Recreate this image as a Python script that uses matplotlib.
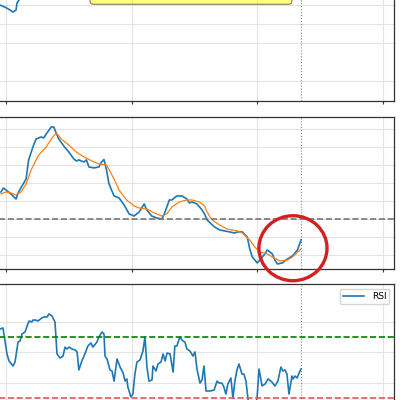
# -*- coding: utf-8 -*-
# Price with moving average and RSI (zoomed crop of a bigger dashboard)
import numpy as np
import matplotlib
matplotlib.use('Agg')
import matplotlib.pyplot as plt
from matplotlib.patches import Ellipse, FancyBboxPatch

# Top panel (only a small piece of the line is visible)
top_day = [-2.4, -0.4, 1.6, 2.8, 4.0, 4.4, 5.2, 6.5]
top_val = [5.0, 4.89, 4.74, 4.63, 4.74, 5.11, 5.26, 5.8]

# Middle panel: price and its moving average
price_day = [-2, -1, 0, 2, 4, 5, 8, 9, 11, 12, 14, 15, 16, 18, 19, 21, 23, 25, 27, 28,
             29, 31, 32, 33, 35, 37, 38, 39, 40, 41, 43, 45, 47, 49, 51, 53, 55, 56, 58, 60,
             62, 63, 65, 66, 68, 70, 72, 73, 74, 76, 78, 79, 80, 83, 85, 87, 89, 91, 92, 94,
             96, 97, 98, 100, 101, 103, 104, 106, 107, 108, 110, 112, 114, 116, 117.4]
price = [97.0, 97.44, 97.22, 96.78, 96.22, 97.0, 98.44, 100.56, 102.22, 102.89, 103.11, 103.0,
         103.44, 104.22, 104.22, 102.89, 102.11, 101.44, 100.67, 100.44, 100.56, 100.33, 100.56,
         99.78, 99.67, 99.78, 100.33, 100.6, 99.44, 97.89, 96.56, 96.33, 95.56, 94.56, 94.33,
         94.78, 95.67, 95.0, 94.33, 94.11, 94.0, 94.56, 96.11, 96.11, 96.56, 96.56, 96.22, 95.78,
         95.89, 95.67, 95.0, 94.56, 93.89, 93.11, 92.78, 92.67, 92.56, 92.44, 92.56, 92.56, 92.0,
         90.67, 89.78, 89.11, 89.44, 90.11, 90.56, 90.11, 89.44, 89.0, 89.11, 89.56, 89.89,
         90.56, 91.67]

ma_day = [-2, 0, 2, 4, 6, 8, 10, 13, 16, 18, 20, 22, 25, 28, 31, 35, 37, 40, 43, 45, 48, 51,
          53, 56, 59, 62, 64, 66, 69, 72, 74, 77, 79, 80, 82, 85, 88, 92, 94, 97, 99, 101, 104,
          106, 109, 112, 114, 117.4]
ma = [96.78, 97.0, 96.89, 96.67, 97.0, 97.89, 99.44, 101.11, 102.0, 102.89, 103.56, 102.89,
      102.22, 101.44, 100.89, 100.33, 100.11, 100.0, 98.44, 97.22, 96.11, 95.44, 95.22, 95.11,
      94.67, 94.33, 94.56, 95.33, 95.89, 96.11, 96.11, 95.89, 95.44, 94.78, 93.89, 93.33, 92.89,
      92.67, 92.44, 91.67, 90.89, 90.33, 90.11, 89.78, 89.33, 89.44, 89.78, 90.67]
ref_level = 94

# Bottom panel: RSI
rsi_day = [-2.4, -1.2, -0.4, 0.4, 1.2, 2.8, 3.6, 4.8, 5.6, 6.4, 7.6, 8.4, 9.2, 10.3, 10.7, 11.9,
           12.7, 14.3, 15.1, 16.3, 17.1, 18.3, 19.5, 20.3, 21.5, 22.7, 23.5, 24.3, 25.1, 26.3,
           27.5, 28.3, 29.0, 30.2, 31.4, 32.6, 33.8, 34.6, 36.2, 37.0, 38.2, 39.0, 39.4, 40.2,
           41.4, 42.2, 43.0, 44.2, 45.4, 46.6, 47.4, 48.1, 48.5, 49.7, 50.5, 51.3, 52.1, 53.3,
           54.5, 55.3, 56.1, 56.9, 58.1, 58.5, 59.7, 60.5, 61.7, 62.5, 63.3, 64.1, 65.3, 66.5,
           67.2, 68.0, 69.2, 70.4, 71.2, 72.0, 73.2, 74.4, 75.2, 76.0, 77.2, 78.0, 78.8, 79.6,
           81.2, 82.8, 84.0, 84.8, 85.9, 86.7, 87.5, 88.3, 89.5, 90.3, 91.1, 91.9, 92.7, 93.9,
           94.7, 95.5, 96.3, 97.5, 99.1, 99.9, 100.7, 101.9, 103.1, 104.3, 105.8, 107.0, 108.2,
           109.4, 110.2, 111.0, 111.8, 112.6, 113.8, 114.2, 115.0, 115.8, 117.0, 117.4]
rsi = [75.2, 75.9, 67.4, 58.9, 54.3, 51.0, 53.6, 66.7, 67.4, 72.0, 73.3, 77.2, 80.5, 79.8, 81.1,
       81.1, 80.5, 82.5, 83.1, 83.1, 85.1, 83.8, 79.8, 58.9, 56.2, 57.5, 63.4, 62.1, 63.4, 62.1,
       61.5, 60.2, 48.4, 54.3, 58.9, 64.1, 66.1, 63.4, 66.7, 70.0, 73.3, 72.0, 57.5, 55.6, 48.4,
       47.7, 41.1, 55.6, 50.3, 46.4, 41.1, 42.5, 37.2, 30.7, 32.6, 45.7, 53.6, 54.9, 60.8, 70.0,
       50.3, 41.1, 41.8, 51.0, 47.7, 52.3, 53.6, 58.9, 54.3, 59.5, 58.9, 47.0, 64.1, 64.1, 70.0,
       67.4, 66.7, 62.1, 60.8, 57.5, 60.2, 49.0, 39.8, 41.8, 51.0, 34.6, 34.6, 35.2, 41.1, 39.8,
       39.8, 37.2, 32.6, 39.2, 43.1, 30.0, 41.1, 48.4, 52.3, 45.7, 45.7, 41.1, 29.3, 22.1, 23.4,
       30.0, 49.0, 37.9, 39.2, 42.5, 40.5, 37.9, 41.1, 50.3, 47.7, 48.4, 45.7, 32.6, 44.4, 42.5,
       44.4, 43.1, 47.7, 49.0]
overbought = 70
oversold = 30

last_day = rsi_day[-1]
xticks = [0, 50, 100, 150]

fig = plt.figure(figsize=(4, 4), dpi=100)

# axes placed partly outside the figure to reproduce the crop
left, width = -0.1107, 1.0957
ax_top = fig.add_axes([left, 0.7475, width, 0.6275])
ax_mid = fig.add_axes([left, 0.3275, width, 0.38])
ax_rsi = fig.add_axes([left, -0.1094, width, 0.3994])

for ax in (ax_top, ax_mid, ax_rsi):
  ax.set_xlim(-20, 154.4)
  ax.set_xticks(xticks)
  ax.grid(True, color='#e4e4e4', lw=0.8)
  ax.set_axisbelow(True)
  ax.tick_params(labelbottom=False, labelleft=False, direction='out', length=2.5,
                 width=0.8, color='#333333')
  for s in ax.spines.values():
    s.set_color('#333333')
    s.set_linewidth(0.9)
  ax.axvline(last_day, color='#888888', ls=':', lw=0.8)

# top panel
ax_top.plot(top_day, top_val, color='#1f77b4', lw=1.2)
ax_top.set_ylim(-0.05, 13.16)
ax_top.set_yticks([1, 3, 4, 5])
ax_top.add_patch(FancyBboxPatch((0.3064, 0.3853), 0.4607, 0.2,
                                boxstyle='round,pad=0,rounding_size=0.008',
                                mutation_aspect=1.746, transform=ax_top.transAxes,
                                facecolor='yellow', edgecolor='black', alpha=0.5, lw=0.8))

# middle panel
ax_mid.plot(price_day, price, color='#1f77b4', lw=1.2)
ax_mid.plot(ma_day, ma, color='#ff7f0e', lw=0.9)
ax_mid.axhline(ref_level, color='#777777', ls='--', lw=1.2)
ax_mid.set_ylim(88.44, 105.33)
ax_mid.set_yticks(np.arange(90, 106, 2))
ax_mid.add_patch(Ellipse((114.2, 90.75), 27.1, 7.22, fill=False, edgecolor='#d42020',
                         lw=2.4, clip_on=False, zorder=10))

# RSI panel
ax_rsi.plot(rsi_day, rsi, color='#1f77b4', lw=1.2, label='RSI')
ax_rsi.axhline(overbought, color='green', ls='--', lw=1.2)
ax_rsi.axhline(oversold, color='#e05555', ls='--', lw=1.2)
ax_rsi.set_ylim(0, 104.75)
ax_rsi.set_yticks([20, 40, 60, 80])
ax_rsi.legend(loc='upper right', fontsize=6.5, handlelength=2.4, borderpad=0.35,
              borderaxespad=0.5)

plt.savefig('out.png', dpi=100)
